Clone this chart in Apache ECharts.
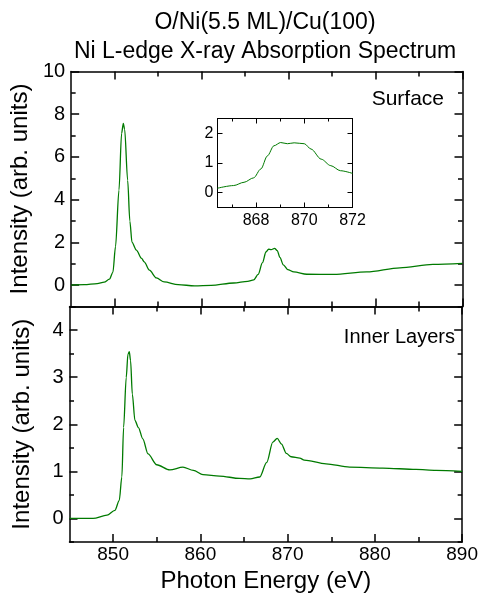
<!DOCTYPE html>
<html>
<head>
<meta charset="utf-8">
<script src="https://cdn.jsdelivr.net/npm/echarts@6/dist/echarts.min.js"></script>
<style>html,body{margin:0;padding:0;background:#fff}#c{width:481px;height:596px}</style>
</head>
<body>
<div id="c"></div>
<script>
// ---- data ----
const titleLines = ['O/Ni(5.5 ML)/Cu(100)', 'Ni L-edge X-ray Absorption Spectrum'];
const xName = 'Photon Energy (eV)';
const yName = 'Intensity (arb. units)';
const panelLabels = ['Surface', 'Inner Layers'];

const xTicksMajor = [850, 860, 870, 880, 890];
const xTicksMinor = [855, 865, 875, 885];
const yTopMajor = [0, 2, 4, 6, 8, 10];
const yTopMinor = [-1, 1, 3, 5, 7, 9];
const yBotMajor = [0, 1, 2, 3, 4];
const yBotMinor = [-0.5, 0.5, 1.5, 2.5, 3.5, 4.5];
const insetXMajor = [868, 870, 872];
const insetXMinor = [867, 869, 871];
const insetYMajor = [0, 1, 2];

const surfaceE = [845.0, 846.5, 848.0, 848.8, 849.4, 849.8, 850.1, 850.5, 850.8, 851.0, 851.15, 851.5, 851.75, 852.0, 852.5, 853.1, 853.4, 854.0, 854.8, 855.7, 857.3, 859.2, 861.1, 863.7, 865.3, 866.0, 866.5, 867.0, 867.4, 867.7, 868.0, 868.4, 868.7, 869.0, 869.4, 869.9, 870.6, 872.1, 875.2, 879.0, 882.8, 886.6, 890.0];
const surfaceI = [0.00, 0.02, 0.07, 0.14, 0.28, 0.60, 1.80, 4.45, 7.10, 7.57, 7.30, 4.90, 3.00, 2.00, 1.64, 1.25, 1.09, 0.70, 0.34, 0.15, 0.02, -0.03, -0.01, 0.10, 0.18, 0.25, 0.50, 1.05, 1.55, 1.68, 1.66, 1.72, 1.62, 1.30, 0.95, 0.73, 0.62, 0.51, 0.50, 0.62, 0.81, 0.97, 1.02];

const innerE = [845.0, 847.7, 849.3, 850.2, 850.7, 851.0, 851.2, 851.5, 851.7, 851.85, 852.0, 852.2, 852.5, 852.9, 853.4, 854.0, 855.0, 856.5, 858.0, 859.2, 860.3, 862.2, 864.5, 865.7, 866.8, 867.6, 868.3, 868.8, 869.3, 869.85, 870.4, 871.4, 871.9, 874.4, 877.1, 880.9, 884.7, 887.0, 890.0];
const innerI = [0.00, 0.00, 0.07, 0.17, 0.38, 0.88, 1.93, 2.99, 3.49, 3.54, 3.35, 2.64, 2.08, 1.93, 1.69, 1.37, 1.14, 1.03, 1.09, 1.02, 0.93, 0.90, 0.85, 0.84, 0.88, 1.19, 1.62, 1.70, 1.58, 1.38, 1.31, 1.28, 1.24, 1.16, 1.09, 1.07, 1.04, 1.02, 1.00];

const insetE = [866.4, 867.07, 867.5, 867.9, 868.2, 868.47, 868.74, 869.02, 869.3, 869.58, 870.0, 870.28, 870.7, 871.1, 871.5, 872.0];
const insetI = [0.15, 0.24, 0.35, 0.50, 0.80, 1.24, 1.58, 1.69, 1.65, 1.68, 1.65, 1.47, 1.13, 0.91, 0.74, 0.65];

// ---- build ----
const FONT = 'Liberation Sans';
const LINE = '#007a00';
const chart = echarts.init(document.getElementById('c'), null, {renderer: 'canvas'});

const xAxes = [], yAxes = [];
function mkAxis(grid, min, max, pos, ticks, len, showLine, labels, lw, fs, margin, extra) {
  return Object.assign({
    type: 'value', gridIndex: grid, min: min, max: max, position: pos,
    axisLine: {show: showLine, onZero: false, lineStyle: {color: '#000', width: lw}},
    axisTick: {show: true, inside: true, length: len, customValues: ticks, lineStyle: {color: '#000', width: lw}},
    axisLabel: labels ? {show: true, customValues: labels, color: '#000', fontFamily: FONT, fontSize: fs, margin: margin} : {show: false},
    splitLine: {show: false}
  }, extra || {});
}
function addX() { xAxes.push(mkAxis.apply(null, arguments)); return xAxes.length - 1; }
function addY() { yAxes.push(mkAxis.apply(null, arguments)); return yAxes.length - 1; }

const grids = [
  {left: 69.5, top: 71.5, width: 393, height: 235},
  {left: 69.5, top: 306.5, width: 393, height: 235.5},
  {left: 217.5, top: 118.5, width: 135, height: 89, show: true, backgroundColor: '#fff', borderWidth: 0}
];
const nameStyle = {fontFamily: FONT, fontSize: 24, color: '#000'};

// top panel axes
const tx = addX(0, 845, 890, 'bottom', xTicksMajor, 8, true, null, 1.5);
addX(0, 845, 890, 'bottom', xTicksMinor, 5, false, null, 1.5);
addX(0, 845, 890, 'top', xTicksMajor, 8, true, null, 1.5);
addX(0, 845, 890, 'top', xTicksMinor, 5, false, null, 1.5);
const ty = addY(0, -1, 10, 'left', yTopMajor, 8, true, yTopMajor, 1.5, 20, 6, {
  name: yName, nameLocation: 'middle', nameGap: 35, nameTextStyle: nameStyle
});
addY(0, -1, 10, 'left', yTopMinor, 4.5, false, null, 1.5);
addY(0, -1, 10, 'right', yTopMajor, 8, true, null, 1.5);
addY(0, -1, 10, 'right', yTopMinor, 4.5, false, null, 1.5);

// bottom panel axes
const bx = addX(1, 845, 890, 'bottom', xTicksMajor, 8, true, xTicksMajor, 1.5, 19, 3, {
  name: xName, nameLocation: 'middle', nameGap: 27, nameTextStyle: nameStyle
});
addX(1, 845, 890, 'bottom', xTicksMinor, 5, false, null, 1.5);
addX(1, 845, 890, 'top', xTicksMajor, 8, true, null, 1.5);
addX(1, 845, 890, 'top', xTicksMinor, 5, false, null, 1.5);
const by = addY(1, -0.5, 4.5, 'left', yBotMajor, 8, true, yBotMajor, 1.5, 20, 6, {
  name: yName, nameLocation: 'middle', nameGap: 35, nameTextStyle: nameStyle
});
addY(1, -0.5, 4.5, 'left', yBotMinor, 4.5, false, null, 1.5);
addY(1, -0.5, 4.5, 'right', yBotMajor, 8, true, null, 1.5);
addY(1, -0.5, 4.5, 'right', yBotMinor, 4.5, false, null, 1.5);

// inset axes
const ix = addX(2, 866.4, 872, 'bottom', insetXMajor, 5, true, insetXMajor, 1, 16, 5);
addX(2, 866.4, 872, 'bottom', insetXMinor, 3, false, null, 1);
addX(2, 866.4, 872, 'top', insetXMajor, 5, true, null, 1);
addX(2, 866.4, 872, 'top', insetXMinor, 3, false, null, 1);
const iy = addY(2, -0.5, 2.5, 'left', insetYMajor, 5, true, insetYMajor, 1, 16, 4);
addY(2, -0.5, 2.5, 'right', insetYMajor, 5, true, null, 1);

function pairs(xs, ys) { return xs.map((x, i) => [x, ys[i]]); }
const lineStyle = {color: LINE, width: 1.3};

const option = {
  animation: false,
  backgroundColor: '#fff',
  title: {
    text: titleLines.join('\n'),
    left: 260, top: 3, textAlign: 'center',
    textStyle: {fontFamily: FONT, fontSize: 23, fontWeight: 'normal', color: '#000', lineHeight: 29}
  },
  grid: grids,
  xAxis: xAxes,
  yAxis: yAxes,
  graphic: [
    {type: 'text', right: 481 - 444, top: 89, style: {text: panelLabels[0], font: '21px "' + FONT + '"', fill: '#000'}},
    {type: 'text', right: 481 - 455, top: 327, style: {text: panelLabels[1], font: '20px "' + FONT + '"', fill: '#000'}}
  ],
  series: [
    {type: 'line', xAxisIndex: tx, yAxisIndex: ty, data: pairs(surfaceE, surfaceI), showSymbol: false, smooth: 0.3, smoothMonotone: 'x', lineStyle: lineStyle},
    {type: 'line', xAxisIndex: bx, yAxisIndex: by, data: pairs(innerE, innerI), showSymbol: false, smooth: 0.3, smoothMonotone: 'x', lineStyle: lineStyle},
    {type: 'line', xAxisIndex: ix, yAxisIndex: iy, data: pairs(insetE, insetI), showSymbol: false, smooth: 0.3, smoothMonotone: 'x', lineStyle: {color: LINE, width: 1}}
  ]
};
chart.setOption(option);
</script>
</body>
</html>
